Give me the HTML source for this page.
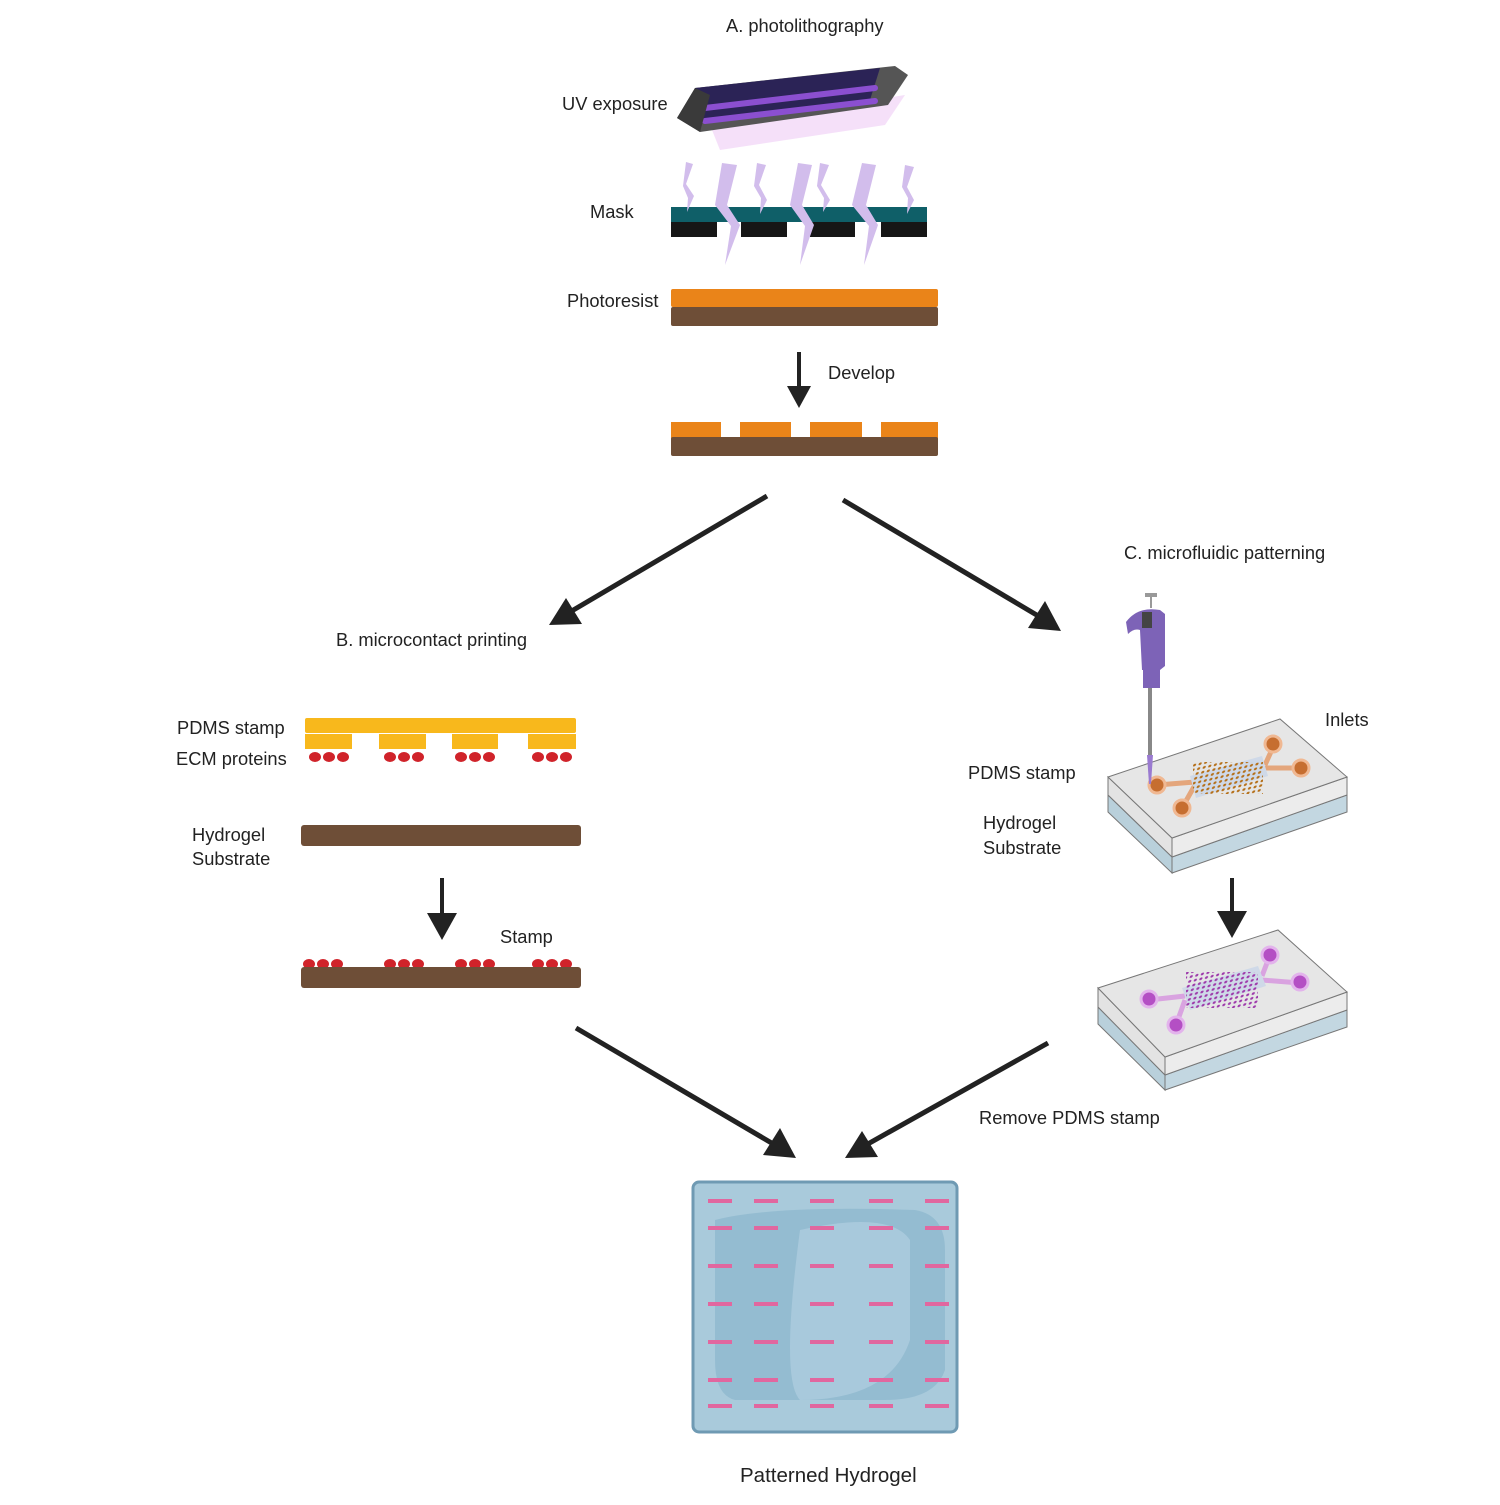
<!DOCTYPE html>
<html><head><meta charset="utf-8"><style>
html,body{margin:0;padding:0;background:#fff}
svg text{font-family:"Liberation Sans",sans-serif;fill:#222}
</style></head><body>
<svg width="1500" height="1500" viewBox="0 0 1500 1500" xmlns="http://www.w3.org/2000/svg">
<defs>
<pattern id="d1" width="5" height="5" patternUnits="userSpaceOnUse" patternTransform="skewX(-30) rotate(-15)"><circle cx="2.5" cy="2.5" r="1.4" fill="#b5701a"/></pattern>
<pattern id="d2" width="5" height="5" patternUnits="userSpaceOnUse" patternTransform="skewX(-30) rotate(-15)"><circle cx="2.5" cy="2.5" r="1.4" fill="#9e3bab"/></pattern>
<g id="row" stroke="#e1679f" stroke-width="4"><line x1="708" y1="0" x2="732" y2="0"/><line x1="754" y1="0" x2="778" y2="0"/><line x1="810" y1="0" x2="834" y2="0"/><line x1="869" y1="0" x2="893" y2="0"/><line x1="925" y1="0" x2="949" y2="0"/></g>
</defs>
<g font-size="18.3">
<text x="726" y="32">A. photolithography</text>
<text x="562" y="110">UV exposure</text>
<text x="590" y="218">Mask</text>
<text x="567" y="307">Photoresist</text>
<text x="828" y="379">Develop</text>
<text x="336" y="646">B. microcontact printing</text>
<text x="1124" y="559">C. microfluidic patterning</text>
<text x="177" y="734">PDMS stamp</text>
<text x="176" y="765">ECM proteins</text>
<text x="192" y="841">Hydrogel</text>
<text x="192" y="865">Substrate</text>
<text x="500" y="943">Stamp</text>
<text x="1325" y="726">Inlets</text>
<text x="968" y="779">PDMS stamp</text>
<text x="983" y="829">Hydrogel</text>
<text x="983" y="854">Substrate</text>
<text x="979" y="1124">Remove PDMS stamp</text>
<text x="740" y="1482" font-size="20.5">Patterned Hydrogel</text>
</g>
<!-- UV lamp -->
<polygon points="710,125 905,95 885,125 720,150" fill="#f3d8f7" opacity="0.8"/>
<polygon points="677,118 695,88 895,66 908,75 888,105 700,132" fill="#555"/>
<polygon points="695,88 880,68 870,100 700,122" fill="#2b2356"/>
<line x1="705" y1="108" x2="875" y2="88" stroke="#8b4fd0" stroke-width="6" stroke-linecap="round"/>
<line x1="705" y1="121" x2="875" y2="101" stroke="#8b4fd0" stroke-width="6" stroke-linecap="round"/>
<polygon points="677,118 695,88 710,95 700,132" fill="#3a3a3a"/>
<!-- mask -->
<rect x="671" y="207" width="256" height="15" fill="#0f5f68"/>
<rect x="671" y="222" width="46" height="15" fill="#161616"/>
<rect x="741" y="222" width="46" height="15" fill="#161616"/>
<rect x="810" y="222" width="45" height="15" fill="#161616"/>
<rect x="881" y="222" width="46" height="15" fill="#161616"/>
<g fill="#d2bdec">
<polygon points="686,162 693,164 686,184 694,196 687,212 688,198 683,186"/>
<polygon points="722,163 737,165 727,205 740,225 725,265 731,226 715,205"/>
<polygon points="757,163 766,165 759,185 767,200 760,214 761,198 754,186"/>
<polygon points="798,163 812,165 802,205 814,225 800,265 805,226 790,205"/>
<polygon points="820,163 829,165 821,185 830,200 823,212 824,198 817,186"/>
<polygon points="862,163 876,165 866,205 878,225 864,265 869,226 852,205"/>
<polygon points="905,165 914,167 907,187 914,200 907,214 908,198 902,187"/>
</g>
<!-- photoresist -->
<rect x="671" y="289" width="267" height="18" rx="2" fill="#ea8419"/>
<rect x="671" y="307" width="267" height="19" rx="2" fill="#6e4e37"/>
<line x1="799" y1="352" x2="799" y2="390" stroke="#222" stroke-width="4"/>
<path d="M799,408 l-12,-22 h24z" fill="#222"/>
<!-- developed -->
<rect x="671" y="422" width="50" height="17" fill="#ea8419"/>
<rect x="740" y="422" width="51" height="17" fill="#ea8419"/>
<rect x="810" y="422" width="52" height="17" fill="#ea8419"/>
<rect x="881" y="422" width="57" height="17" fill="#ea8419"/>
<rect x="671" y="437" width="267" height="19" rx="2" fill="#6e4e37"/>
<!-- big arrows -->
<g stroke="#222" stroke-width="5">
<line x1="767" y1="496" x2="570" y2="612"/>
<line x1="843" y1="500" x2="1040" y2="617"/>
<line x1="576" y1="1028" x2="775" y2="1145"/>
<line x1="1048" y1="1043" x2="866" y2="1145"/>
</g>
<g fill="#222">
<polygon points="549,625 566,598 582,624"/>
<polygon points="1061,631 1028,628 1045,601"/>
<polygon points="796,1158 763,1155 780,1128"/>
<polygon points="845,1158 862,1131 878,1157"/>
</g>
<!-- B -->
<rect x="305" y="718" width="271" height="15" rx="2" fill="#f8b81c"/>
<g fill="#f8b81c">
<rect x="305" y="734" width="47" height="15"/><rect x="379" y="734" width="47" height="15"/>
<rect x="452" y="734" width="46" height="15"/><rect x="528" y="734" width="48" height="15"/>
</g>
<g fill="#d0232a">
<ellipse cx="315" cy="757" rx="6" ry="5"/><ellipse cx="329" cy="757" rx="6" ry="5"/><ellipse cx="343" cy="757" rx="6" ry="5"/>
<ellipse cx="390" cy="757" rx="6" ry="5"/><ellipse cx="404" cy="757" rx="6" ry="5"/><ellipse cx="418" cy="757" rx="6" ry="5"/>
<ellipse cx="461" cy="757" rx="6" ry="5"/><ellipse cx="475" cy="757" rx="6" ry="5"/><ellipse cx="489" cy="757" rx="6" ry="5"/>
<ellipse cx="538" cy="757" rx="6" ry="5"/><ellipse cx="552" cy="757" rx="6" ry="5"/><ellipse cx="566" cy="757" rx="6" ry="5"/>
<ellipse cx="309" cy="964" rx="6" ry="5"/><ellipse cx="323" cy="964" rx="6" ry="5"/><ellipse cx="337" cy="964" rx="6" ry="5"/>
<ellipse cx="390" cy="964" rx="6" ry="5"/><ellipse cx="404" cy="964" rx="6" ry="5"/><ellipse cx="418" cy="964" rx="6" ry="5"/>
<ellipse cx="461" cy="964" rx="6" ry="5"/><ellipse cx="475" cy="964" rx="6" ry="5"/><ellipse cx="489" cy="964" rx="6" ry="5"/>
<ellipse cx="538" cy="964" rx="6" ry="5"/><ellipse cx="552" cy="964" rx="6" ry="5"/><ellipse cx="566" cy="964" rx="6" ry="5"/>
</g>
<rect x="301" y="825" width="280" height="21" rx="3" fill="#6e4e37"/>
<rect x="301" y="967" width="280" height="21" rx="3" fill="#6e4e37"/>
<line x1="442" y1="878" x2="442" y2="915" stroke="#222" stroke-width="4"/>
<path d="M442,940 l-15,-27 h30z" fill="#222"/>
<line x1="1232" y1="878" x2="1232" y2="913" stroke="#222" stroke-width="4"/>
<path d="M1232,938 l-15,-27 h30z" fill="#222"/>
<!-- chip 1 -->
<g stroke="#777" stroke-width="1">
<polygon points="1108,795 1172,857 1172,873 1108,812" fill="#b9d0db"/>
<polygon points="1172,857 1347,795 1347,812 1172,873" fill="#c3d7e1"/>
<polygon points="1108,777 1172,838 1172,857 1108,795" fill="#e3e3e3"/>
<polygon points="1172,838 1347,777 1347,795 1172,857" fill="#ececec"/>
<polygon points="1108,777 1280,719 1347,777 1172,838" fill="#e6e6e6"/>
</g>
<g stroke="#e4a67c" stroke-width="5"><line x1="1157" y1="785" x2="1195" y2="782"/><line x1="1182" y1="808" x2="1195" y2="785"/><line x1="1265" y1="765" x2="1274" y2="745"/><line x1="1265" y1="768" x2="1301" y2="768"/></g>
<polygon points="1190,776 1262,756 1268,776 1196,798" fill="#cfd9e8"/>
<rect x="1193" y="762" width="70" height="32" fill="url(#d1)"/>
<g fill="#c66e30" stroke="#f0b892" stroke-width="3">
<circle cx="1157" cy="785" r="8"/><circle cx="1182" cy="808" r="8"/><circle cx="1273" cy="744" r="8"/><circle cx="1301" cy="768" r="8"/>
</g>
<!-- pipette -->
<line x1="1150" y1="685" x2="1150" y2="755" stroke="#888" stroke-width="4"/>
<polygon points="1147,755 1153,755 1151,784 1149,784" fill="#9a7ad0"/>
<path d="M1126,622 q12,-16 34,-12 l5,4 v52 l-5,4 h-18 l-2,-40 q-6,-2 -12,4 z" fill="#7d63b7"/>
<rect x="1142" y="612" width="10" height="16" fill="#444"/>
<rect x="1143" y="668" width="17" height="20" fill="#7d63b7"/>
<rect x="1145" y="593" width="12" height="4" fill="#999"/><line x1="1151" y1="597" x2="1151" y2="608" stroke="#999" stroke-width="2"/>
<!-- chip 2 -->
<g stroke="#777" stroke-width="1">
<polygon points="1098,1007 1165,1075 1165,1090 1098,1024" fill="#b9d0db"/>
<polygon points="1165,1075 1347,1010 1347,1027 1165,1090" fill="#c3d7e1"/>
<polygon points="1098,988 1165,1057 1165,1075 1098,1007" fill="#e3e3e3"/>
<polygon points="1165,1057 1347,992 1347,1010 1165,1075" fill="#ececec"/>
<polygon points="1098,988 1278,930 1347,992 1165,1057" fill="#e6e6e6"/>
</g>
<g stroke="#d9a3e0" stroke-width="5"><line x1="1149" y1="1000" x2="1185" y2="996"/><line x1="1176" y1="1025" x2="1185" y2="1000"/><line x1="1262" y1="976" x2="1270" y2="955"/><line x1="1262" y1="980" x2="1300" y2="983"/></g>
<polygon points="1182,988 1258,966 1266,986 1190,1010" fill="#cfd9e8"/>
<rect x="1186" y="972" width="72" height="36" fill="url(#d2)"/>
<g fill="#b44fc4" stroke="#e3b3ec" stroke-width="3">
<circle cx="1149" cy="999" r="8"/><circle cx="1176" cy="1025" r="8"/><circle cx="1270" cy="955" r="8"/><circle cx="1300" cy="982" r="8"/>
</g>
<!-- hydrogel -->
<rect x="693" y="1182" width="264" height="250" rx="6" fill="#a9cadb" stroke="#6f9ab3" stroke-width="3"/>
<path d="M715,1220 q60,-15 200,-10 q30,5 30,40 v120 q-10,30 -60,30 h-150 q-20,-5 -20,-40 z" fill="#8bb6cd" opacity="0.7"/>
<path d="M800,1230 q90,-20 110,10 v100 q-20,60 -110,60 q-20,-20 0,-170z" fill="#b5d2e2" opacity="0.6"/>
<use href="#row" y="1201"/><use href="#row" y="1228"/><use href="#row" y="1266"/><use href="#row" y="1304"/><use href="#row" y="1342"/><use href="#row" y="1380"/><use href="#row" y="1406"/>
</svg>
</body></html>
